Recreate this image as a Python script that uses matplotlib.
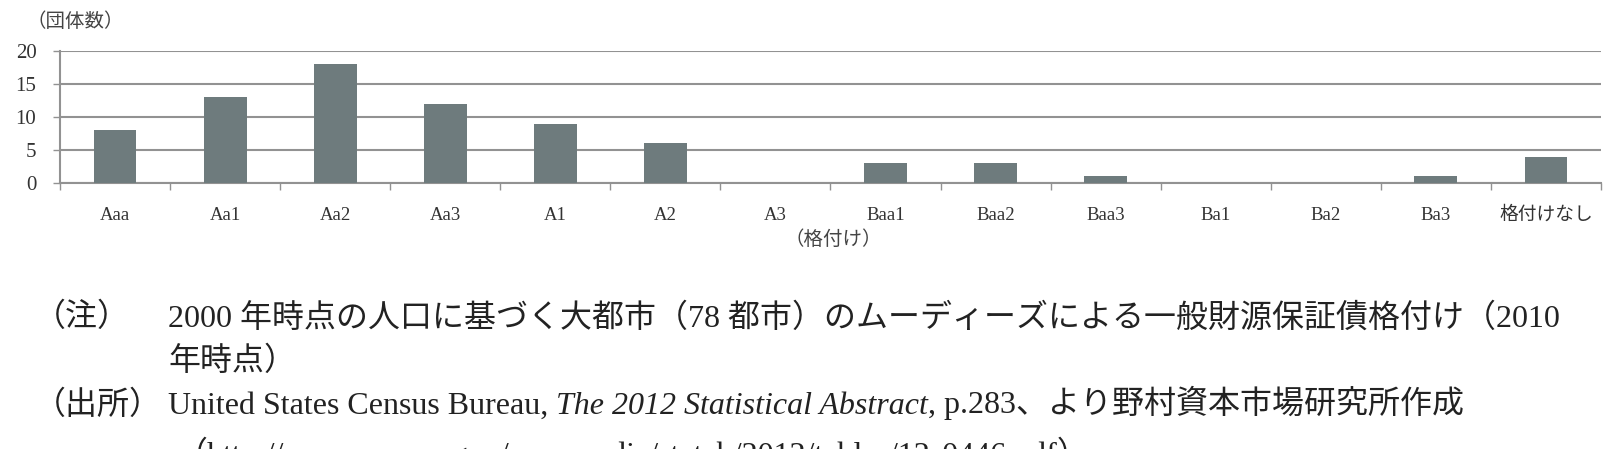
import numpy as np
import matplotlib
matplotlib.use('Agg')
import matplotlib.pyplot as plt

plt.rcParams['font.family'] = ['Liberation Serif', 'Noto Sans CJK JP']

# データ（格付け別の団体数）
ratings = ['Aaa', 'Aa1', 'Aa2', 'Aa3', 'A1', 'A2', 'A3',
           'Baa1', 'Baa2', 'Baa3', 'Ba1', 'Ba2', 'Ba3', '格付けなし']
counts = [8, 13, 18, 12, 9, 6, 0, 3, 3, 1, 0, 0, 1, 4]
y_ticks = [0, 5, 10, 15, 20]

W, H = 1606, 449
fig = plt.figure(figsize=(W / 100, H / 100), dpi=100)


def fx(px):
    return px / W


def fy(py):
    return 1 - py / H


ax = fig.add_axes([fx(60), fy(183), fx(1601) - fx(60), fy(51) - fy(183)])

x = np.arange(len(ratings))
ax.bar(x, counts, width=0.39, color='#6e7b7d', zorder=3)

ax.set_xlim(-0.5, len(ratings) - 0.5)
ax.set_ylim(0, 20)
ax.set_yticks(y_ticks)
ax.yaxis.grid(True, color='#929292', linewidth=1.5, zorder=0)
ax.set_axisbelow(True)

ax.set_xticks(x)
ax.set_xticklabels(ratings, fontsize=13.5, color='#333333')
ax.set_xticks(np.arange(len(ratings) + 1) - 0.5, minor=True)
ax.tick_params(axis='x', which='major', length=0, pad=17)
ax.tick_params(axis='x', which='minor', length=5, width=1, color='#929292', direction='out')
ax.tick_params(axis='y', length=5, width=1, color='#929292', labelsize=15, labelcolor='#333333', pad=12)

for s in ['top', 'right']:
    ax.spines[s].set_visible(False)
for s in ['left', 'bottom']:
    ax.spines[s].set_color('#929292')
    ax.spines[s].set_linewidth(1.5)

fig.text(fx(27), fy(22), '（団体数）', fontsize=14, color='#444444', va='center')
fig.text(fx(833), fy(240), '（格付け）', fontsize=14, color='#444444', va='center', ha='center')

# 注記・出所
note_size = 23
tc = '#222222'
fig.text(fx(34), fy(318), '（注）', fontsize=note_size, color=tc, va='center')
fig.text(fx(168), fy(318),
         '2000 年時点の人口に基づく大都市（78 都市）のムーディーズによる一般財源保証債格付け（2010',
         fontsize=note_size, color=tc, va='center')
fig.text(fx(168), fy(362), '年時点）', fontsize=note_size, color=tc, va='center')

fig.text(fx(34), fy(406), '（出所）', fontsize=note_size, color=tc, va='center')
t1 = fig.text(fx(168), fy(406), 'United States Census Bureau, ', fontsize=note_size,
              color=tc, va='center')
t2 = ax.annotate('The 2012 Statistical Abstract', xy=(1, 0), xycoords=t1,
                 va='bottom', ha='left', fontsize=note_size, color=tc, style='italic',
                 annotation_clip=False)
t3 = ax.annotate(', p.283、より野村資本市場研究所作成', xy=(1, 0), xycoords=t2,
                 va='bottom', ha='left', fontsize=note_size, color=tc,
                 annotation_clip=False)
fig.text(fx(176), fy(454), '（http://www.census.gov/compendia/statab/2012/tables/12s0446.pdf）',
         fontsize=note_size, color=tc, va='center')

fig.savefig('out.png', dpi=100)
